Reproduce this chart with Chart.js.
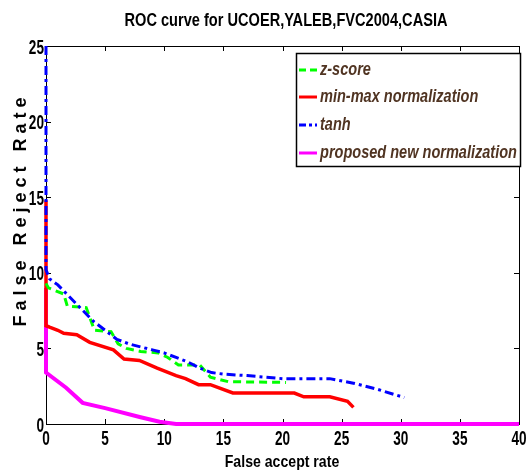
<!DOCTYPE html>
<html>
<head>
<meta charset="utf-8">
<script src="https://cdn.jsdelivr.net/npm/chart.js@4.4.1/dist/chart.umd.min.js"></script>
<style>
  html, body { margin: 0; padding: 0; background: #fff; }
  #wrap { width: 526px; height: 472px; }
</style>
</head>
<body>
<div id="wrap"><canvas id="myChart" width="526" height="472"></canvas></div>
<script>
const FONT = "'Liberation Sans', Arial, sans-serif";

const seriesNames = ['z-score', 'min-max normalization', 'tanh', 'proposed new normalization'];
const xTicks = [0, 5, 10, 15, 20, 25, 30, 35, 40];
const yTicks = [0, 5, 10, 15, 20, 25];

// z-score
const zscoreX = [0, 0.2, 1.5, 1.8, 3.4, 4.1, 5.5, 6.1, 6.8, 8, 9.5, 10.3, 11.2, 13, 13.9, 15.4, 20.3];
const zscoreY = [9.3, 9.0, 8.6, 7.8, 7.7, 6.2, 6.1, 5.3, 5.0, 4.8, 4.7, 4.4, 3.9, 3.9, 3.1, 2.8, 2.75];
// min-max
const minmaxX = [0, 0, 0.3, 1, 1.5, 2.6, 3.7, 5.7, 6.6, 7.9, 9.4, 11, 11.8, 12.9, 13.9, 15.8, 21, 21.8, 24, 25.5, 26];
const minmaxY = [14.8, 6.5, 6.4, 6.2, 6.0, 5.9, 5.4, 4.9, 4.3, 4.2, 3.7, 3.2, 3.0, 2.6, 2.6, 2.05, 2.05, 1.8, 1.8, 1.5, 1.1];
// tanh
const tanhX = [0, 0, 0.3, 1, 2, 3, 4, 5, 6, 7, 8, 9, 10, 11, 12, 13, 14, 15, 17, 20, 24, 26, 28, 30.3];
const tanhY = [25, 10.2, 9.6, 9.2, 8.4, 7.6, 6.8, 6.2, 5.6, 5.3, 5.1, 4.9, 4.7, 4.4, 4.1, 3.7, 3.4, 3.3, 3.2, 3.0, 3.0, 2.7, 2.3, 1.75];
// proposed
const propX = [0, 0, 1.7, 3.1, 5, 8, 9.6, 11, 40];
const propY = [9, 3.4, 2.4, 1.4, 1.05, 0.45, 0.15, 0, 0];

const colors = ['#00ff00', '#ff0000', '#0000ff', '#ff00ff'];
const dashes = [[8, 5], [], [9, 4, 3, 4], []];
const widths = [3, 3.5, 3, 4];

function pts(xs, ys) { return xs.map((x, i) => ({ x: x, y: ys[i] })); }

const allX = [zscoreX, minmaxX, tanhX, propX];
const allY = [zscoreY, minmaxY, tanhY, propY];
const drawOrder = [1, 2, 0, 3];

const datasets = seriesNames.map((name, i) => ({
    label: name,
    data: pts(allX[i], allY[i]),
    showLine: true,
    borderColor: colors[i],
    backgroundColor: colors[i],
    borderWidth: widths[i],
    borderDash: dashes[i],
    pointRadius: 0,
    tension: 0,
    clip: 6,
    order: drawOrder[i],
}));

// draws text squeezed horizontally (the original uses a narrow Helvetica)
function narrowText(ctx, text, x, y, sx, align, rot) {
    ctx.save();
    ctx.translate(x, y);
    if (rot) ctx.rotate(rot);
    ctx.scale(sx, 1);
    ctx.textAlign = align;
    ctx.textBaseline = 'middle';
    ctx.fillText(text, 0, 0);
    ctx.restore();
}

// MATLAB-like box with inward ticks, labels, legend
const framePlugin = {
    id: 'frame',
    beforeDatasetsDraw(chart) {
        const { ctx, chartArea: a, scales } = chart;
        ctx.save();
        ctx.strokeStyle = '#000';
        ctx.lineWidth = 1;
        ctx.strokeRect(a.left + 0.5, a.top + 0.5, a.right - a.left, a.bottom - a.top);
        ctx.beginPath();
        xTicks.forEach(t => {
            const px = Math.round(scales.x.getPixelForValue(t)) + 0.5;
            ctx.moveTo(px, a.bottom); ctx.lineTo(px, a.bottom - 5);
            ctx.moveTo(px, a.top); ctx.lineTo(px, a.top + 5);
        });
        yTicks.forEach(t => {
            const py = Math.round(scales.y.getPixelForValue(t)) + 0.5;
            ctx.moveTo(a.left, py); ctx.lineTo(a.left + 5, py);
            ctx.moveTo(a.right, py); ctx.lineTo(a.right - 5, py);
        });
        ctx.stroke();

        // tick labels
        ctx.fillStyle = '#000';
        ctx.font = 'bold 20px ' + FONT;
        xTicks.forEach(t => {
            narrowText(ctx, String(t), scales.x.getPixelForValue(t), a.bottom + 15, 0.68, 'center');
        });
        yTicks.forEach(t => {
            narrowText(ctx, String(t), a.left - 2, scales.y.getPixelForValue(t) + 2, 0.68, 'right');
        });

        // axis titles
        ctx.font = 'bold 17px ' + FONT;
        narrowText(ctx, 'False accept rate', 282, 462, 0.83, 'center');
        ctx.font = 'bold 18px ' + FONT;
        narrowText(ctx, 'F a l s e   R e j e c t   R a t e', 21, 212, 1.0, 'center', -Math.PI / 2);

        // title
        ctx.font = 'bold 18px ' + FONT;
        const tw = ctx.measureText('ROC curve for UCOER,YALEB,FVC2004,CASIA').width;
        narrowText(ctx, 'ROC curve for UCOER,YALEB,FVC2004,CASIA', 286, 21, 323 / tw, 'center');
        ctx.restore();
    },
    afterDraw(chart) {
        const { ctx } = chart;
        ctx.save();
        // legend box
        const bx = 296, by = 53, bw = 224, bh = 113;
        ctx.fillStyle = '#fff';
        ctx.fillRect(bx, by, bw, bh);
        ctx.strokeStyle = '#000';
        ctx.lineWidth = 1.5;
        ctx.strokeRect(bx + 0.5, by + 0.5, bw, bh);
        const rows = [70, 97, 125, 153];
        ctx.font = 'italic bold 19px ' + FONT;
        const w = ctx.measureText(seriesNames[3]).width;
        const sx = 197 / w;
        seriesNames.forEach((name, i) => {
            ctx.strokeStyle = colors[i];
            ctx.lineWidth = 3;
            ctx.setLineDash(i === 0 ? [7, 4] : i === 2 ? [7, 3, 3, 3] : []);
            ctx.beginPath();
            ctx.moveTo(299, rows[i]); ctx.lineTo(317, rows[i]);
            ctx.stroke();
            ctx.setLineDash([]);
            ctx.fillStyle = '#503422';
            narrowText(ctx, name, 320, rows[i], sx, 'left');
        });
        ctx.restore();
    }
};

const config = {
    type: 'scatter',
    data: { datasets: datasets },
    options: {
        responsive: false,
        animation: false,
        layout: { padding: { top: 46, right: 7, left: 0, bottom: 0 } },
        plugins: {
            legend: { display: false },
            tooltip: { enabled: false },
        },
        scales: {
            x: {
                type: 'linear',
                min: 0, max: 40,
                afterFit: s => { s.height = 48; s.paddingLeft = 0; s.paddingRight = 0; },
                afterBuildTicks: s => { s.ticks = xTicks.map(v => ({ value: v })); },
                grid: { display: false, drawTicks: false },
                border: { display: false },
                ticks: { display: false },
            },
            y: {
                type: 'linear',
                min: 0, max: 25,
                afterFit: s => { s.width = 46; s.paddingTop = 0; s.paddingBottom = 0; },
                afterBuildTicks: s => { s.ticks = yTicks.map(v => ({ value: v })); },
                grid: { display: false, drawTicks: false },
                border: { display: false },
                ticks: { display: false },
            }
        }
    },
    plugins: [framePlugin]
};

var myChart = new Chart(document.getElementById('myChart'), config);
</script>
</body>
</html>
